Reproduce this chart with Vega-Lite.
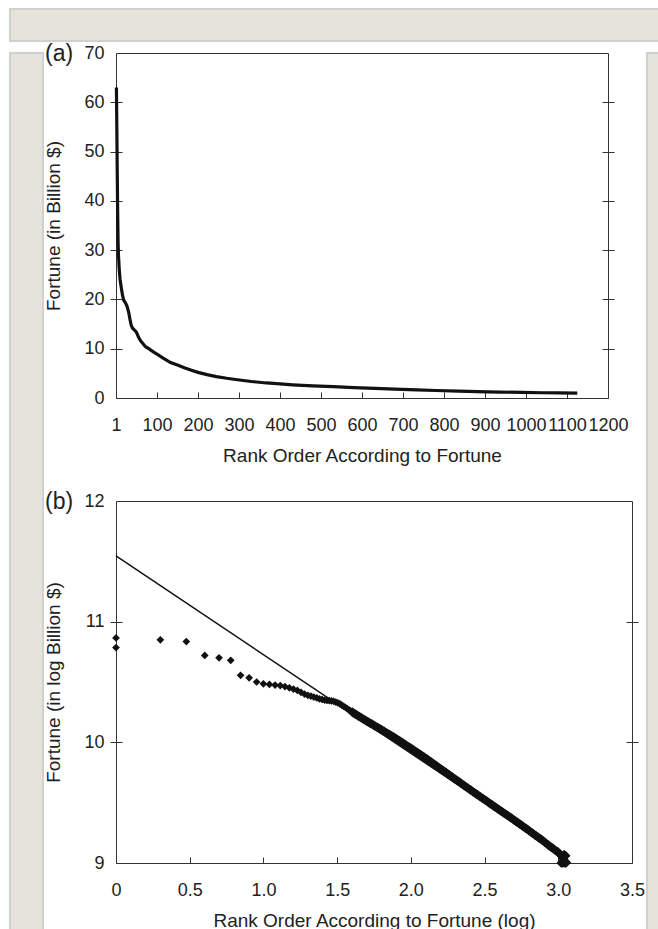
{
  "$schema": "https://vega.github.io/schema/vega-lite/v6.json",
  "background": "white",
  "padding": {"left": 9, "top": 8, "right": 0, "bottom": 0},
  "spacing": 0,
  "config": {
    "font": "Liberation Sans",
    "view": {"stroke": null},
    "axis": {
      "labelFont": "Liberation Sans", "labelFontSize": 18, "labelColor": "#222",
      "titleFont": "Liberation Sans", "titleFontSize": 19, "titleFontWeight": "normal", "titleColor": "#222",
      "tickColor": "#333", "tickWidth": 1, "grid": false, "domain": false
    }
  },
  "datasets": {
    "fortune": [
      {"rank": 1, "fortune": 63}, {"rank": 2, "fortune": 55}, {"rank": 3, "fortune": 46}, {"rank": 4, "fortune": 38},
      {"rank": 5, "fortune": 32}, {"rank": 6, "fortune": 29}, {"rank": 8, "fortune": 26}, {"rank": 10, "fortune": 24},
      {"rank": 13, "fortune": 22.3}, {"rank": 16, "fortune": 20.8}, {"rank": 19, "fortune": 19.8}, {"rank": 23, "fortune": 19.3},
      {"rank": 27, "fortune": 18.6}, {"rank": 31, "fortune": 17.4}, {"rank": 34, "fortune": 16}, {"rank": 37, "fortune": 14.8},
      {"rank": 40, "fortune": 14.2}, {"rank": 45, "fortune": 13.8}, {"rank": 50, "fortune": 13.3}, {"rank": 55, "fortune": 12.3},
      {"rank": 60, "fortune": 11.6}, {"rank": 66, "fortune": 11}, {"rank": 72, "fortune": 10.4}, {"rank": 78, "fortune": 10.1},
      {"rank": 85, "fortune": 9.7}, {"rank": 92, "fortune": 9.3}, {"rank": 100, "fortune": 8.9}, {"rank": 115, "fortune": 8.1},
      {"rank": 133, "fortune": 7.2}, {"rank": 150, "fortune": 6.7}, {"rank": 165, "fortune": 6.2}, {"rank": 182, "fortune": 5.7},
      {"rank": 200, "fortune": 5.2}, {"rank": 222, "fortune": 4.75}, {"rank": 245, "fortune": 4.35}, {"rank": 270, "fortune": 4.0},
      {"rank": 296, "fortune": 3.7}, {"rank": 330, "fortune": 3.35}, {"rank": 367, "fortune": 3.05}, {"rank": 400, "fortune": 2.85},
      {"rank": 430, "fortune": 2.68}, {"rank": 480, "fortune": 2.47}, {"rank": 530, "fortune": 2.3}, {"rank": 580, "fortune": 2.1},
      {"rank": 632, "fortune": 1.95}, {"rank": 680, "fortune": 1.8}, {"rank": 734, "fortune": 1.65}, {"rank": 780, "fortune": 1.52},
      {"rank": 836, "fortune": 1.4}, {"rank": 880, "fortune": 1.3}, {"rank": 938, "fortune": 1.2}, {"rank": 990, "fortune": 1.13},
      {"rank": 1040, "fortune": 1.07}, {"rank": 1080, "fortune": 1.03}, {"rank": 1125, "fortune": 1.0}
    ],
    "logfortune": [
      {"logRank": 0, "logFortune": 10.865}, {"logRank": 0, "logFortune": 10.785}, {"logRank": 0.301, "logFortune": 10.85},
      {"logRank": 0.477, "logFortune": 10.835}, {"logRank": 0.602, "logFortune": 10.72}, {"logRank": 0.699, "logFortune": 10.70},
      {"logRank": 0.778, "logFortune": 10.68}, {"logRank": 0.845, "logFortune": 10.555}, {"logRank": 0.903, "logFortune": 10.535},
      {"logRank": 0.954, "logFortune": 10.50}, {"logRank": 1.0, "logFortune": 10.485}, {"logRank": 1.041, "logFortune": 10.48},
      {"logRank": 1.079, "logFortune": 10.475}, {"logRank": 1.114, "logFortune": 10.47}, {"logRank": 1.146, "logFortune": 10.462},
      {"logRank": 1.176, "logFortune": 10.452}, {"logRank": 1.204, "logFortune": 10.44}, {"logRank": 1.23, "logFortune": 10.43},
      {"logRank": 1.255, "logFortune": 10.415}, {"logRank": 1.279, "logFortune": 10.40}, {"logRank": 1.301, "logFortune": 10.39},
      {"logRank": 1.322, "logFortune": 10.382}, {"logRank": 1.342, "logFortune": 10.375}, {"logRank": 1.362, "logFortune": 10.368},
      {"logRank": 1.38, "logFortune": 10.36}, {"logRank": 1.398, "logFortune": 10.355}, {"logRank": 1.415, "logFortune": 10.35},
      {"logRank": 1.431, "logFortune": 10.347}, {"logRank": 1.447, "logFortune": 10.345}, {"logRank": 1.462, "logFortune": 10.343},
      {"logRank": 1.477, "logFortune": 10.34}, {"logRank": 1.491, "logFortune": 10.334}, {"logRank": 1.505, "logFortune": 10.327},
      {"logRank": 1.519, "logFortune": 10.318}, {"logRank": 1.531, "logFortune": 10.309}, {"logRank": 1.544, "logFortune": 10.299},
      {"logRank": 1.556, "logFortune": 10.289}, {"logRank": 1.568, "logFortune": 10.279}, {"logRank": 1.58, "logFortune": 10.269},
      {"logRank": 1.591, "logFortune": 10.26}, {"logRank": 1.602, "logFortune": 10.251},
      {"logRank": 1.61, "logFortune": 10.244}, {"logRank": 1.62, "logFortune": 10.236}, {"logRank": 1.63, "logFortune": 10.229},
      {"logRank": 1.64, "logFortune": 10.221}, {"logRank": 1.65, "logFortune": 10.213}, {"logRank": 1.66, "logFortune": 10.206},
      {"logRank": 1.67, "logFortune": 10.199}, {"logRank": 1.68, "logFortune": 10.191}, {"logRank": 1.69, "logFortune": 10.184},
      {"logRank": 1.70, "logFortune": 10.176}, {"logRank": 1.71, "logFortune": 10.169}, {"logRank": 1.72, "logFortune": 10.162},
      {"logRank": 1.73, "logFortune": 10.155}, {"logRank": 1.74, "logFortune": 10.148}, {"logRank": 1.75, "logFortune": 10.14},
      {"logRank": 1.76, "logFortune": 10.133}, {"logRank": 1.77, "logFortune": 10.126}, {"logRank": 1.78, "logFortune": 10.119},
      {"logRank": 1.79, "logFortune": 10.112}, {"logRank": 1.80, "logFortune": 10.105}, {"logRank": 1.81, "logFortune": 10.097},
      {"logRank": 1.82, "logFortune": 10.09}, {"logRank": 1.83, "logFortune": 10.082}, {"logRank": 1.84, "logFortune": 10.075},
      {"logRank": 1.85, "logFortune": 10.068}, {"logRank": 1.86, "logFortune": 10.06}, {"logRank": 1.87, "logFortune": 10.053},
      {"logRank": 1.88, "logFortune": 10.045}, {"logRank": 1.89, "logFortune": 10.038}, {"logRank": 1.90, "logFortune": 10.031},
      {"logRank": 1.91, "logFortune": 10.023}, {"logRank": 1.92, "logFortune": 10.014}, {"logRank": 1.93, "logFortune": 10.007},
      {"logRank": 1.94, "logFortune": 9.999}, {"logRank": 1.95, "logFortune": 9.991}, {"logRank": 1.96, "logFortune": 9.983},
      {"logRank": 1.97, "logFortune": 9.975}, {"logRank": 1.98, "logFortune": 9.967}, {"logRank": 1.99, "logFortune": 9.959},
      {"logRank": 2.00, "logFortune": 9.951}, {"logRank": 2.01, "logFortune": 9.943}, {"logRank": 2.02, "logFortune": 9.935},
      {"logRank": 2.03, "logFortune": 9.926}, {"logRank": 2.04, "logFortune": 9.918}, {"logRank": 2.05, "logFortune": 9.91},
      {"logRank": 2.06, "logFortune": 9.902}, {"logRank": 2.07, "logFortune": 9.894}, {"logRank": 2.08, "logFortune": 9.886},
      {"logRank": 2.09, "logFortune": 9.877}, {"logRank": 2.10, "logFortune": 9.869}, {"logRank": 2.11, "logFortune": 9.861},
      {"logRank": 2.12, "logFortune": 9.852}, {"logRank": 2.13, "logFortune": 9.843}, {"logRank": 2.14, "logFortune": 9.835},
      {"logRank": 2.15, "logFortune": 9.826}, {"logRank": 2.16, "logFortune": 9.817}, {"logRank": 2.17, "logFortune": 9.809},
      {"logRank": 2.18, "logFortune": 9.80}, {"logRank": 2.19, "logFortune": 9.791}, {"logRank": 2.20, "logFortune": 9.782},
      {"logRank": 2.21, "logFortune": 9.774}, {"logRank": 2.22, "logFortune": 9.765}, {"logRank": 2.23, "logFortune": 9.757},
      {"logRank": 2.24, "logFortune": 9.748}, {"logRank": 2.25, "logFortune": 9.739}, {"logRank": 2.26, "logFortune": 9.73},
      {"logRank": 2.27, "logFortune": 9.722}, {"logRank": 2.28, "logFortune": 9.713}, {"logRank": 2.29, "logFortune": 9.704},
      {"logRank": 2.30, "logFortune": 9.696}, {"logRank": 2.31, "logFortune": 9.687}, {"logRank": 2.32, "logFortune": 9.678},
      {"logRank": 2.33, "logFortune": 9.67}, {"logRank": 2.34, "logFortune": 9.661}, {"logRank": 2.35, "logFortune": 9.652},
      {"logRank": 2.36, "logFortune": 9.644}, {"logRank": 2.37, "logFortune": 9.635}, {"logRank": 2.38, "logFortune": 9.626},
      {"logRank": 2.39, "logFortune": 9.618}, {"logRank": 2.40, "logFortune": 9.609}, {"logRank": 2.41, "logFortune": 9.601},
      {"logRank": 2.42, "logFortune": 9.592}, {"logRank": 2.43, "logFortune": 9.584}, {"logRank": 2.44, "logFortune": 9.575},
      {"logRank": 2.45, "logFortune": 9.567}, {"logRank": 2.46, "logFortune": 9.559}, {"logRank": 2.47, "logFortune": 9.55},
      {"logRank": 2.48, "logFortune": 9.541}, {"logRank": 2.49, "logFortune": 9.533}, {"logRank": 2.50, "logFortune": 9.525},
      {"logRank": 2.51, "logFortune": 9.517}, {"logRank": 2.52, "logFortune": 9.508}, {"logRank": 2.53, "logFortune": 9.499},
      {"logRank": 2.54, "logFortune": 9.491}, {"logRank": 2.55, "logFortune": 9.483}, {"logRank": 2.56, "logFortune": 9.474},
      {"logRank": 2.57, "logFortune": 9.466}, {"logRank": 2.58, "logFortune": 9.457}, {"logRank": 2.59, "logFortune": 9.449},
      {"logRank": 2.60, "logFortune": 9.44}, {"logRank": 2.61, "logFortune": 9.432}, {"logRank": 2.62, "logFortune": 9.424},
      {"logRank": 2.63, "logFortune": 9.415}, {"logRank": 2.64, "logFortune": 9.407}, {"logRank": 2.65, "logFortune": 9.398},
      {"logRank": 2.66, "logFortune": 9.39}, {"logRank": 2.67, "logFortune": 9.382}, {"logRank": 2.68, "logFortune": 9.373},
      {"logRank": 2.69, "logFortune": 9.365}, {"logRank": 2.70, "logFortune": 9.356}, {"logRank": 2.71, "logFortune": 9.348},
      {"logRank": 2.72, "logFortune": 9.339}, {"logRank": 2.73, "logFortune": 9.331}, {"logRank": 2.74, "logFortune": 9.322},
      {"logRank": 2.75, "logFortune": 9.313}, {"logRank": 2.76, "logFortune": 9.304}, {"logRank": 2.77, "logFortune": 9.296},
      {"logRank": 2.78, "logFortune": 9.287}, {"logRank": 2.79, "logFortune": 9.279}, {"logRank": 2.80, "logFortune": 9.27},
      {"logRank": 2.81, "logFortune": 9.26}, {"logRank": 2.82, "logFortune": 9.252}, {"logRank": 2.83, "logFortune": 9.243},
      {"logRank": 2.84, "logFortune": 9.234}, {"logRank": 2.85, "logFortune": 9.225}, {"logRank": 2.86, "logFortune": 9.216},
      {"logRank": 2.87, "logFortune": 9.207}, {"logRank": 2.88, "logFortune": 9.199}, {"logRank": 2.89, "logFortune": 9.19},
      {"logRank": 2.90, "logFortune": 9.181}, {"logRank": 2.91, "logFortune": 9.171}, {"logRank": 2.92, "logFortune": 9.161},
      {"logRank": 2.93, "logFortune": 9.151}, {"logRank": 2.94, "logFortune": 9.142}, {"logRank": 2.95, "logFortune": 9.132},
      {"logRank": 2.96, "logFortune": 9.125}, {"logRank": 2.97, "logFortune": 9.115}, {"logRank": 2.98, "logFortune": 9.105},
      {"logRank": 2.99, "logFortune": 9.097}, {"logRank": 3.00, "logFortune": 9.09}, {"logRank": 3.01, "logFortune": 9.075},
      {"logRank": 3.02, "logFortune": 9.06}, {"logRank": 3.03, "logFortune": 9.04}, {"logRank": 3.04, "logFortune": 9.02},
      {"logRank": 3.05, "logFortune": 9.0}, {"logRank": 3.02, "logFortune": 9.0}, {"logRank": 3.03, "logFortune": 9.0},
      {"logRank": 3.04, "logFortune": 9.005}, {"logRank": 3.045, "logFortune": 9.0}, {"logRank": 3.055, "logFortune": 9.005},
      {"logRank": 3.04, "logFortune": 9.07}, {"logRank": 3.05, "logFortune": 9.06}
    ],
    "fit": [
      {"logRank": 0, "logFortune": 11.545},
      {"logRank": 3.05, "logFortune": 9.05}
    ]
  },
  "vconcat": [
    {
      "data": {"values": []},
      "mark": "point",
      "width": 649, "height": 32,
      "view": {"fill": "#e5e3da", "stroke": "#d0d0d0", "strokeWidth": 2}
    },
    {
      "spacing": 0,
      "hconcat": [
        {
          "data": {"values": []},
          "mark": "point",
          "width": 33, "height": 900,
          "view": {"fill": "#e5e3da", "stroke": "#d0d0d0", "strokeWidth": 2}
        },
        {
          "spacing": 24,
          "vconcat": [
            {
              "width": 492, "height": 345,
              "title": {"text": "(a)", "anchor": "start", "frame": "bounds", "fontSize": 23, "fontWeight": "normal", "font": "Liberation Sans", "color": "#222", "baseline": "top", "offset": -22},
              "view": {"stroke": "#333", "strokeWidth": 1, "fill": "white"},
              "data": {"name": "fortune"},
              "layer": [
                {
                  "mark": {"type": "line", "color": "#111", "strokeWidth": 3.2},
                  "encoding": {
                    "x": {"field": "rank", "type": "quantitative",
                      "scale": {"domain": [0, 1200], "nice": false, "zero": false},
                      "axis": {"orient": "bottom", "values": [0, 100, 200, 300, 400, 500, 600, 700, 800, 900, 1000, 1100, 1200],
                        "format": "d", "labelExpr": "datum.value === 0 ? '1' : datum.label",
                        "offset": -6, "tickSize": 6, "labelPadding": 18, "labelOverlap": false, "labelFlush": false,
                        "title": "Rank Order According to Fortune", "titlePadding": 12}},
                    "y": {"field": "fortune", "type": "quantitative",
                      "scale": {"domain": [0, 70], "nice": false},
                      "axis": {"orient": "left", "values": [0, 10, 20, 30, 40, 50, 60, 70],
                        "offset": -6, "tickSize": 12, "labelPadding": 6,
                        "tickOpacity": {"condition": {"test": "datum.value === 0 || datum.value === 70", "value": 0}, "value": 1},
                        "title": "Fortune (in Billion $)", "titlePadding": 20}}
                  }
                },
                {
                  "mark": {"type": "line", "opacity": 0},
                  "encoding": {
                    "x": {"field": "rank", "type": "quantitative"},
                    "y": {"field": "fortune", "type": "quantitative",
                      "axis": {"orient": "right", "values": [10, 20, 30, 40, 50, 60], "offset": -6, "tickSize": 12, "labels": false, "title": null}}
                  }
                }
              ],
              "resolve": {"axis": {"y": "independent"}}
            },
            {
              "width": 516, "height": 362,
              "title": {"text": "(b)", "anchor": "start", "frame": "bounds", "fontSize": 23, "fontWeight": "normal", "font": "Liberation Sans", "color": "#222", "baseline": "top", "offset": -22},
              "view": {"stroke": "#333", "strokeWidth": 1, "fill": "white"},
              "layer": [
                {
                  "data": {"name": "logfortune"},
                  "mark": {"type": "point", "shape": "diamond", "filled": true, "color": "#111", "opacity": 1},
                  "encoding": {
                    "x": {"field": "logRank", "type": "quantitative",
                      "scale": {"domain": [0, 3.5], "nice": false, "zero": false},
                      "axis": {"orient": "bottom", "values": [0, 0.5, 1, 1.5, 2, 2.5, 3, 3.5],
                        "labelExpr": "datum.value === 0 ? '0' : format(datum.value, '.1f')",
                        "offset": -6, "tickSize": 6, "labelPadding": 18, "labelOverlap": false, "labelFlush": false,
                        "title": "Rank Order According to Fortune (log)", "titlePadding": 12}},
                    "y": {"field": "logFortune", "type": "quantitative",
                      "scale": {"domain": [9, 12], "nice": false, "zero": false},
                      "axis": {"orient": "left", "values": [9, 10, 11, 12],
                        "offset": -6, "tickSize": 12, "labelPadding": 6,
                        "tickOpacity": {"condition": {"test": "datum.value === 9 || datum.value === 12", "value": 0}, "value": 1},
                        "title": "Fortune (in log Billion $)", "titlePadding": 20}},
                    "size": {"condition": {"test": "datum.logRank >= 1.6", "value": 95}, "value": 60}
                  }
                },
                {
                  "data": {"name": "fit"},
                  "mark": {"type": "line", "color": "#111", "strokeWidth": 1.5},
                  "encoding": {
                    "x": {"field": "logRank", "type": "quantitative"},
                    "y": {"field": "logFortune", "type": "quantitative",
                      "axis": {"orient": "right", "values": [10, 11], "offset": -6, "tickSize": 12, "labels": false, "title": null}}
                  }
                }
              ],
              "resolve": {"axis": {"y": "independent"}}
            }
          ]
        },
        {
          "data": {"values": []},
          "mark": "point",
          "width": 20, "height": 900,
          "view": {"fill": "#e5e3da", "stroke": "#d0d0d0", "strokeWidth": 2}
        }
      ]
    }
  ]
}
